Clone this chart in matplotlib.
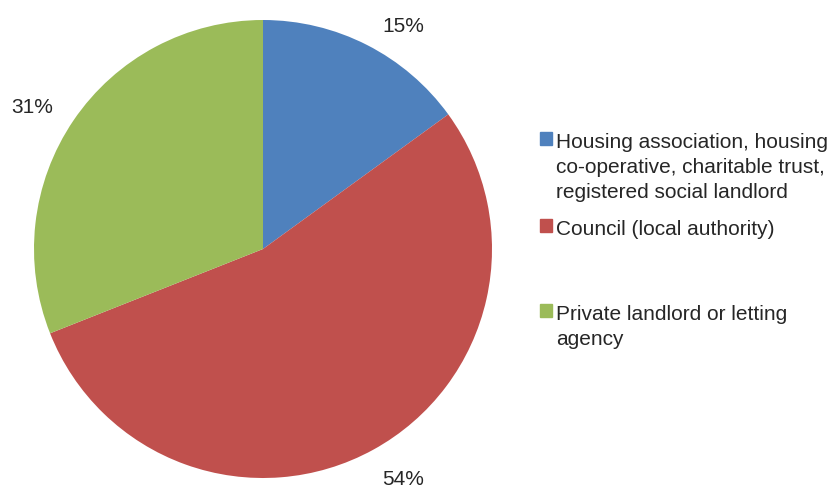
import matplotlib
matplotlib.use("Agg")
from matplotlib import pyplot as plt
from matplotlib.patches import Rectangle

# data
categories = ["Housing association, housing\nco-operative, charitable trust,\nregistered social landlord",
              "Council (local authority)",
              "Private landlord or letting\nagency"]
shares = [15, 54, 31]
colours = ["#4F81BD", "#C0504D", "#9BBB59"]

# label placement (in pie radius units), Excel "best fit" look
label_xy = [(0.611, 0.974), (0.611, -1.002), (-1.009, 0.622)]

plt.rcParams['font.family'] = ['Liberation Sans', 'DejaVu Sans']

fig = plt.figure(figsize=(8.35, 4.89), dpi=100)
W, H = 835, 489
cx, cy, r = 263, 250, 229
ax = fig.add_axes([(cx - r) / W, (H - cy - r) / H, 2 * r / W, 2 * r / H])
wedges, texts, autotexts = ax.pie(shares, colors=colours, startangle=90, counterclock=False,
                                  autopct='%d%%',
                                  textprops={'fontsize': 15, 'color': '#262626'})
for t, xy in zip(autotexts, label_xy):
    t.set_position(xy)
ax.set_xlim(-1, 1)
ax.set_ylim(-1, 1)

# legend drawn by hand (Excel style spacing), one baseline per line
leg_base = [148, 235, 320]
for lab, col, y in zip(categories, colours, leg_base):
    fig.patches.append(Rectangle((540 / W, 1 - (y - 2) / H), 12 / W, 13 / H,
                                 transform=fig.transFigure, color=col))
    for i, line in enumerate(lab.split("\n")):
        fig.text(556 / W, 1 - (y + 25 * i) / H, line, fontsize=15, color='#262626',
                 va='baseline', ha='left')

fig.savefig("out.png", dpi=100)
